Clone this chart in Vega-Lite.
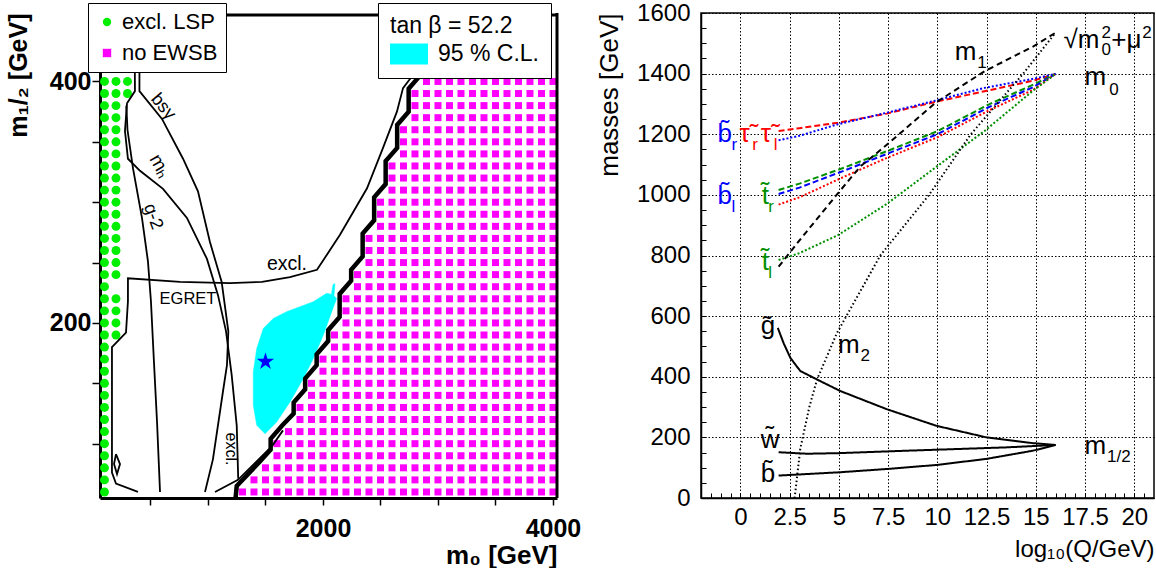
{
"$schema":"https://vega.github.io/schema/vega-lite/v6.json",
"background":"white",
"padding":{"left":6,"top":0,"right":0,"bottom":0},
"bounds":"flush",
"spacing":144,
"config":{
  "font":"Liberation Sans",
  "view":{"stroke":null},
  "axis":{"domainColor":"black","tickColor":"black","labelColor":"black","titleColor":"black","labelFlush":false,"labelOverlap":false,"labelFont":"Liberation Sans","titleFont":"Liberation Sans"},
  "legend":{"strokeColor":"black","fillColor":"white","cornerRadius":0,"labelFontSize":23,"titleFontSize":23,"titleFontWeight":"normal","labelColor":"black","titleColor":"black","labelFont":"Liberation Sans","titleFont":"Liberation Sans"},
  "text":{"font":"Liberation Sans"}
},
"resolve":{"scale":{"color":"independent","shape":"independent","fill":"independent","strokeDash":"independent"}},
"datasets":{
"lsp":[
{"m0":100,"m12":60},{"m0":100,"m12":70},{"m0":100,"m12":80},{"m0":100,"m12":90},{"m0":100,"m12":100},{"m0":100,"m12":110},{"m0":100,"m12":120},{"m0":100,"m12":130},{"m0":100,"m12":140},{"m0":100,"m12":150},{"m0":100,"m12":160},{"m0":100,"m12":170},{"m0":100,"m12":180},{"m0":100,"m12":190},{"m0":100,"m12":200},{"m0":100,"m12":210},{"m0":100,"m12":220},{"m0":100,"m12":230},{"m0":100,"m12":240},{"m0":100,"m12":250},{"m0":100,"m12":260},{"m0":100,"m12":270},{"m0":100,"m12":280},{"m0":100,"m12":290},{"m0":100,"m12":300},{"m0":100,"m12":310},{"m0":100,"m12":320},{"m0":100,"m12":330},{"m0":100,"m12":340},{"m0":100,"m12":350},{"m0":100,"m12":360},{"m0":100,"m12":370},{"m0":100,"m12":380},{"m0":100,"m12":390},{"m0":100,"m12":400},
{"m0":200,"m12":190},{"m0":200,"m12":200},{"m0":200,"m12":210},{"m0":200,"m12":220},{"m0":200,"m12":240},{"m0":200,"m12":250},{"m0":200,"m12":260},{"m0":200,"m12":270},{"m0":200,"m12":280},{"m0":200,"m12":290},{"m0":200,"m12":300},{"m0":200,"m12":310},{"m0":200,"m12":320},{"m0":200,"m12":330},{"m0":200,"m12":340},{"m0":200,"m12":350},{"m0":200,"m12":360},{"m0":200,"m12":370},{"m0":200,"m12":380},{"m0":200,"m12":390},{"m0":200,"m12":400},
{"m0":300,"m12":390},{"m0":300,"m12":400}
],
"ewsb":[
{"m0":1300,"m12":60},{"m0":1400,"m12":60},{"m0":1500,"m12":60},{"m0":1600,"m12":60},{"m0":1700,"m12":60},{"m0":1800,"m12":60},{"m0":1900,"m12":60},{"m0":2000,"m12":60},{"m0":2100,"m12":60},{"m0":2200,"m12":60},{"m0":2300,"m12":60},{"m0":2400,"m12":60},{"m0":2500,"m12":60},{"m0":2600,"m12":60},{"m0":2700,"m12":60},{"m0":2800,"m12":60},{"m0":2900,"m12":60},{"m0":3000,"m12":60},{"m0":3100,"m12":60},{"m0":3200,"m12":60},{"m0":3300,"m12":60},{"m0":3400,"m12":60},{"m0":3500,"m12":60},{"m0":3600,"m12":60},{"m0":3700,"m12":60},{"m0":3800,"m12":60},{"m0":3900,"m12":60},{"m0":4000,"m12":60},
{"m0":1400,"m12":70},{"m0":1500,"m12":70},{"m0":1600,"m12":70},{"m0":1700,"m12":70},{"m0":1800,"m12":70},{"m0":1900,"m12":70},{"m0":2000,"m12":70},{"m0":2100,"m12":70},{"m0":2200,"m12":70},{"m0":2300,"m12":70},{"m0":2400,"m12":70},{"m0":2500,"m12":70},{"m0":2600,"m12":70},{"m0":2700,"m12":70},{"m0":2800,"m12":70},{"m0":2900,"m12":70},{"m0":3000,"m12":70},{"m0":3100,"m12":70},{"m0":3200,"m12":70},{"m0":3300,"m12":70},{"m0":3400,"m12":70},{"m0":3500,"m12":70},{"m0":3600,"m12":70},{"m0":3700,"m12":70},{"m0":3800,"m12":70},{"m0":3900,"m12":70},{"m0":4000,"m12":70},
{"m0":1500,"m12":80},{"m0":1600,"m12":80},{"m0":1700,"m12":80},{"m0":1800,"m12":80},{"m0":1900,"m12":80},{"m0":2000,"m12":80},{"m0":2100,"m12":80},{"m0":2200,"m12":80},{"m0":2300,"m12":80},{"m0":2400,"m12":80},{"m0":2500,"m12":80},{"m0":2600,"m12":80},{"m0":2700,"m12":80},{"m0":2800,"m12":80},{"m0":2900,"m12":80},{"m0":3000,"m12":80},{"m0":3100,"m12":80},{"m0":3200,"m12":80},{"m0":3300,"m12":80},{"m0":3400,"m12":80},{"m0":3500,"m12":80},{"m0":3600,"m12":80},{"m0":3700,"m12":80},{"m0":3800,"m12":80},{"m0":3900,"m12":80},{"m0":4000,"m12":80},
{"m0":1600,"m12":90},{"m0":1700,"m12":90},{"m0":1800,"m12":90},{"m0":1900,"m12":90},{"m0":2000,"m12":90},{"m0":2100,"m12":90},{"m0":2200,"m12":90},{"m0":2300,"m12":90},{"m0":2400,"m12":90},{"m0":2500,"m12":90},{"m0":2600,"m12":90},{"m0":2700,"m12":90},{"m0":2800,"m12":90},{"m0":2900,"m12":90},{"m0":3000,"m12":90},{"m0":3100,"m12":90},{"m0":3200,"m12":90},{"m0":3300,"m12":90},{"m0":3400,"m12":90},{"m0":3500,"m12":90},{"m0":3600,"m12":90},{"m0":3700,"m12":90},{"m0":3800,"m12":90},{"m0":3900,"m12":90},{"m0":4000,"m12":90},
{"m0":1600,"m12":100},{"m0":1700,"m12":100},{"m0":1800,"m12":100},{"m0":1900,"m12":100},{"m0":2000,"m12":100},{"m0":2100,"m12":100},{"m0":2200,"m12":100},{"m0":2300,"m12":100},{"m0":2400,"m12":100},{"m0":2500,"m12":100},{"m0":2600,"m12":100},{"m0":2700,"m12":100},{"m0":2800,"m12":100},{"m0":2900,"m12":100},{"m0":3000,"m12":100},{"m0":3100,"m12":100},{"m0":3200,"m12":100},{"m0":3300,"m12":100},{"m0":3400,"m12":100},{"m0":3500,"m12":100},{"m0":3600,"m12":100},{"m0":3700,"m12":100},{"m0":3800,"m12":100},{"m0":3900,"m12":100},{"m0":4000,"m12":100},
{"m0":1700,"m12":110},{"m0":1800,"m12":110},{"m0":1900,"m12":110},{"m0":2000,"m12":110},{"m0":2100,"m12":110},{"m0":2200,"m12":110},{"m0":2300,"m12":110},{"m0":2400,"m12":110},{"m0":2500,"m12":110},{"m0":2600,"m12":110},{"m0":2700,"m12":110},{"m0":2800,"m12":110},{"m0":2900,"m12":110},{"m0":3000,"m12":110},{"m0":3100,"m12":110},{"m0":3200,"m12":110},{"m0":3300,"m12":110},{"m0":3400,"m12":110},{"m0":3500,"m12":110},{"m0":3600,"m12":110},{"m0":3700,"m12":110},{"m0":3800,"m12":110},{"m0":3900,"m12":110},{"m0":4000,"m12":110},
{"m0":1800,"m12":120},{"m0":1900,"m12":120},{"m0":2000,"m12":120},{"m0":2100,"m12":120},{"m0":2200,"m12":120},{"m0":2300,"m12":120},{"m0":2400,"m12":120},{"m0":2500,"m12":120},{"m0":2600,"m12":120},{"m0":2700,"m12":120},{"m0":2800,"m12":120},{"m0":2900,"m12":120},{"m0":3000,"m12":120},{"m0":3100,"m12":120},{"m0":3200,"m12":120},{"m0":3300,"m12":120},{"m0":3400,"m12":120},{"m0":3500,"m12":120},{"m0":3600,"m12":120},{"m0":3700,"m12":120},{"m0":3800,"m12":120},{"m0":3900,"m12":120},{"m0":4000,"m12":120},
{"m0":1800,"m12":130},{"m0":1900,"m12":130},{"m0":2000,"m12":130},{"m0":2100,"m12":130},{"m0":2200,"m12":130},{"m0":2300,"m12":130},{"m0":2400,"m12":130},{"m0":2500,"m12":130},{"m0":2600,"m12":130},{"m0":2700,"m12":130},{"m0":2800,"m12":130},{"m0":2900,"m12":130},{"m0":3000,"m12":130},{"m0":3100,"m12":130},{"m0":3200,"m12":130},{"m0":3300,"m12":130},{"m0":3400,"m12":130},{"m0":3500,"m12":130},{"m0":3600,"m12":130},{"m0":3700,"m12":130},{"m0":3800,"m12":130},{"m0":3900,"m12":130},{"m0":4000,"m12":130},
{"m0":1900,"m12":140},{"m0":2000,"m12":140},{"m0":2100,"m12":140},{"m0":2200,"m12":140},{"m0":2300,"m12":140},{"m0":2400,"m12":140},{"m0":2500,"m12":140},{"m0":2600,"m12":140},{"m0":2700,"m12":140},{"m0":2800,"m12":140},{"m0":2900,"m12":140},{"m0":3000,"m12":140},{"m0":3100,"m12":140},{"m0":3200,"m12":140},{"m0":3300,"m12":140},{"m0":3400,"m12":140},{"m0":3500,"m12":140},{"m0":3600,"m12":140},{"m0":3700,"m12":140},{"m0":3800,"m12":140},{"m0":3900,"m12":140},{"m0":4000,"m12":140},
{"m0":1900,"m12":150},{"m0":2000,"m12":150},{"m0":2100,"m12":150},{"m0":2200,"m12":150},{"m0":2300,"m12":150},{"m0":2400,"m12":150},{"m0":2500,"m12":150},{"m0":2600,"m12":150},{"m0":2700,"m12":150},{"m0":2800,"m12":150},{"m0":2900,"m12":150},{"m0":3000,"m12":150},{"m0":3100,"m12":150},{"m0":3200,"m12":150},{"m0":3300,"m12":150},{"m0":3400,"m12":150},{"m0":3500,"m12":150},{"m0":3600,"m12":150},{"m0":3700,"m12":150},{"m0":3800,"m12":150},{"m0":3900,"m12":150},{"m0":4000,"m12":150},
{"m0":2000,"m12":160},{"m0":2100,"m12":160},{"m0":2200,"m12":160},{"m0":2300,"m12":160},{"m0":2400,"m12":160},{"m0":2500,"m12":160},{"m0":2600,"m12":160},{"m0":2700,"m12":160},{"m0":2800,"m12":160},{"m0":2900,"m12":160},{"m0":3000,"m12":160},{"m0":3100,"m12":160},{"m0":3200,"m12":160},{"m0":3300,"m12":160},{"m0":3400,"m12":160},{"m0":3500,"m12":160},{"m0":3600,"m12":160},{"m0":3700,"m12":160},{"m0":3800,"m12":160},{"m0":3900,"m12":160},{"m0":4000,"m12":160},
{"m0":2000,"m12":170},{"m0":2100,"m12":170},{"m0":2200,"m12":170},{"m0":2300,"m12":170},{"m0":2400,"m12":170},{"m0":2500,"m12":170},{"m0":2600,"m12":170},{"m0":2700,"m12":170},{"m0":2800,"m12":170},{"m0":2900,"m12":170},{"m0":3000,"m12":170},{"m0":3100,"m12":170},{"m0":3200,"m12":170},{"m0":3300,"m12":170},{"m0":3400,"m12":170},{"m0":3500,"m12":170},{"m0":3600,"m12":170},{"m0":3700,"m12":170},{"m0":3800,"m12":170},{"m0":3900,"m12":170},{"m0":4000,"m12":170},
{"m0":2100,"m12":180},{"m0":2200,"m12":180},{"m0":2300,"m12":180},{"m0":2400,"m12":180},{"m0":2500,"m12":180},{"m0":2600,"m12":180},{"m0":2700,"m12":180},{"m0":2800,"m12":180},{"m0":2900,"m12":180},{"m0":3000,"m12":180},{"m0":3100,"m12":180},{"m0":3200,"m12":180},{"m0":3300,"m12":180},{"m0":3400,"m12":180},{"m0":3500,"m12":180},{"m0":3600,"m12":180},{"m0":3700,"m12":180},{"m0":3800,"m12":180},{"m0":3900,"m12":180},{"m0":4000,"m12":180},
{"m0":2100,"m12":190},{"m0":2200,"m12":190},{"m0":2300,"m12":190},{"m0":2400,"m12":190},{"m0":2500,"m12":190},{"m0":2600,"m12":190},{"m0":2700,"m12":190},{"m0":2800,"m12":190},{"m0":2900,"m12":190},{"m0":3000,"m12":190},{"m0":3100,"m12":190},{"m0":3200,"m12":190},{"m0":3300,"m12":190},{"m0":3400,"m12":190},{"m0":3500,"m12":190},{"m0":3600,"m12":190},{"m0":3700,"m12":190},{"m0":3800,"m12":190},{"m0":3900,"m12":190},{"m0":4000,"m12":190},
{"m0":2200,"m12":200},{"m0":2300,"m12":200},{"m0":2400,"m12":200},{"m0":2500,"m12":200},{"m0":2600,"m12":200},{"m0":2700,"m12":200},{"m0":2800,"m12":200},{"m0":2900,"m12":200},{"m0":3000,"m12":200},{"m0":3100,"m12":200},{"m0":3200,"m12":200},{"m0":3300,"m12":200},{"m0":3400,"m12":200},{"m0":3500,"m12":200},{"m0":3600,"m12":200},{"m0":3700,"m12":200},{"m0":3800,"m12":200},{"m0":3900,"m12":200},{"m0":4000,"m12":200},
{"m0":2200,"m12":210},{"m0":2300,"m12":210},{"m0":2400,"m12":210},{"m0":2500,"m12":210},{"m0":2600,"m12":210},{"m0":2700,"m12":210},{"m0":2800,"m12":210},{"m0":2900,"m12":210},{"m0":3000,"m12":210},{"m0":3100,"m12":210},{"m0":3200,"m12":210},{"m0":3300,"m12":210},{"m0":3400,"m12":210},{"m0":3500,"m12":210},{"m0":3600,"m12":210},{"m0":3700,"m12":210},{"m0":3800,"m12":210},{"m0":3900,"m12":210},{"m0":4000,"m12":210},
{"m0":2200,"m12":220},{"m0":2300,"m12":220},{"m0":2400,"m12":220},{"m0":2500,"m12":220},{"m0":2600,"m12":220},{"m0":2700,"m12":220},{"m0":2800,"m12":220},{"m0":2900,"m12":220},{"m0":3000,"m12":220},{"m0":3100,"m12":220},{"m0":3200,"m12":220},{"m0":3300,"m12":220},{"m0":3400,"m12":220},{"m0":3500,"m12":220},{"m0":3600,"m12":220},{"m0":3700,"m12":220},{"m0":3800,"m12":220},{"m0":3900,"m12":220},{"m0":4000,"m12":220},
{"m0":2300,"m12":230},{"m0":2400,"m12":230},{"m0":2500,"m12":230},{"m0":2600,"m12":230},{"m0":2700,"m12":230},{"m0":2800,"m12":230},{"m0":2900,"m12":230},{"m0":3000,"m12":230},{"m0":3100,"m12":230},{"m0":3200,"m12":230},{"m0":3300,"m12":230},{"m0":3400,"m12":230},{"m0":3500,"m12":230},{"m0":3600,"m12":230},{"m0":3700,"m12":230},{"m0":3800,"m12":230},{"m0":3900,"m12":230},{"m0":4000,"m12":230},
{"m0":2300,"m12":240},{"m0":2400,"m12":240},{"m0":2500,"m12":240},{"m0":2600,"m12":240},{"m0":2700,"m12":240},{"m0":2800,"m12":240},{"m0":2900,"m12":240},{"m0":3000,"m12":240},{"m0":3100,"m12":240},{"m0":3200,"m12":240},{"m0":3300,"m12":240},{"m0":3400,"m12":240},{"m0":3500,"m12":240},{"m0":3600,"m12":240},{"m0":3700,"m12":240},{"m0":3800,"m12":240},{"m0":3900,"m12":240},{"m0":4000,"m12":240},
{"m0":2400,"m12":250},{"m0":2500,"m12":250},{"m0":2600,"m12":250},{"m0":2700,"m12":250},{"m0":2800,"m12":250},{"m0":2900,"m12":250},{"m0":3000,"m12":250},{"m0":3100,"m12":250},{"m0":3200,"m12":250},{"m0":3300,"m12":250},{"m0":3400,"m12":250},{"m0":3500,"m12":250},{"m0":3600,"m12":250},{"m0":3700,"m12":250},{"m0":3800,"m12":250},{"m0":3900,"m12":250},{"m0":4000,"m12":250},
{"m0":2400,"m12":260},{"m0":2500,"m12":260},{"m0":2600,"m12":260},{"m0":2700,"m12":260},{"m0":2800,"m12":260},{"m0":2900,"m12":260},{"m0":3000,"m12":260},{"m0":3100,"m12":260},{"m0":3200,"m12":260},{"m0":3300,"m12":260},{"m0":3400,"m12":260},{"m0":3500,"m12":260},{"m0":3600,"m12":260},{"m0":3700,"m12":260},{"m0":3800,"m12":260},{"m0":3900,"m12":260},{"m0":4000,"m12":260},
{"m0":2400,"m12":270},{"m0":2500,"m12":270},{"m0":2600,"m12":270},{"m0":2700,"m12":270},{"m0":2800,"m12":270},{"m0":2900,"m12":270},{"m0":3000,"m12":270},{"m0":3100,"m12":270},{"m0":3200,"m12":270},{"m0":3300,"m12":270},{"m0":3400,"m12":270},{"m0":3500,"m12":270},{"m0":3600,"m12":270},{"m0":3700,"m12":270},{"m0":3800,"m12":270},{"m0":3900,"m12":270},{"m0":4000,"m12":270},
{"m0":2500,"m12":280},{"m0":2600,"m12":280},{"m0":2700,"m12":280},{"m0":2800,"m12":280},{"m0":2900,"m12":280},{"m0":3000,"m12":280},{"m0":3100,"m12":280},{"m0":3200,"m12":280},{"m0":3300,"m12":280},{"m0":3400,"m12":280},{"m0":3500,"m12":280},{"m0":3600,"m12":280},{"m0":3700,"m12":280},{"m0":3800,"m12":280},{"m0":3900,"m12":280},{"m0":4000,"m12":280},
{"m0":2500,"m12":290},{"m0":2600,"m12":290},{"m0":2700,"m12":290},{"m0":2800,"m12":290},{"m0":2900,"m12":290},{"m0":3000,"m12":290},{"m0":3100,"m12":290},{"m0":3200,"m12":290},{"m0":3300,"m12":290},{"m0":3400,"m12":290},{"m0":3500,"m12":290},{"m0":3600,"m12":290},{"m0":3700,"m12":290},{"m0":3800,"m12":290},{"m0":3900,"m12":290},{"m0":4000,"m12":290},
{"m0":2500,"m12":300},{"m0":2600,"m12":300},{"m0":2700,"m12":300},{"m0":2800,"m12":300},{"m0":2900,"m12":300},{"m0":3000,"m12":300},{"m0":3100,"m12":300},{"m0":3200,"m12":300},{"m0":3300,"m12":300},{"m0":3400,"m12":300},{"m0":3500,"m12":300},{"m0":3600,"m12":300},{"m0":3700,"m12":300},{"m0":3800,"m12":300},{"m0":3900,"m12":300},{"m0":4000,"m12":300},
{"m0":2600,"m12":310},{"m0":2700,"m12":310},{"m0":2800,"m12":310},{"m0":2900,"m12":310},{"m0":3000,"m12":310},{"m0":3100,"m12":310},{"m0":3200,"m12":310},{"m0":3300,"m12":310},{"m0":3400,"m12":310},{"m0":3500,"m12":310},{"m0":3600,"m12":310},{"m0":3700,"m12":310},{"m0":3800,"m12":310},{"m0":3900,"m12":310},{"m0":4000,"m12":310},
{"m0":2600,"m12":320},{"m0":2700,"m12":320},{"m0":2800,"m12":320},{"m0":2900,"m12":320},{"m0":3000,"m12":320},{"m0":3100,"m12":320},{"m0":3200,"m12":320},{"m0":3300,"m12":320},{"m0":3400,"m12":320},{"m0":3500,"m12":320},{"m0":3600,"m12":320},{"m0":3700,"m12":320},{"m0":3800,"m12":320},{"m0":3900,"m12":320},{"m0":4000,"m12":320},
{"m0":2600,"m12":330},{"m0":2700,"m12":330},{"m0":2800,"m12":330},{"m0":2900,"m12":330},{"m0":3000,"m12":330},{"m0":3100,"m12":330},{"m0":3200,"m12":330},{"m0":3300,"m12":330},{"m0":3400,"m12":330},{"m0":3500,"m12":330},{"m0":3600,"m12":330},{"m0":3700,"m12":330},{"m0":3800,"m12":330},{"m0":3900,"m12":330},{"m0":4000,"m12":330},
{"m0":2700,"m12":340},{"m0":2800,"m12":340},{"m0":2900,"m12":340},{"m0":3000,"m12":340},{"m0":3100,"m12":340},{"m0":3200,"m12":340},{"m0":3300,"m12":340},{"m0":3400,"m12":340},{"m0":3500,"m12":340},{"m0":3600,"m12":340},{"m0":3700,"m12":340},{"m0":3800,"m12":340},{"m0":3900,"m12":340},{"m0":4000,"m12":340},
{"m0":2700,"m12":350},{"m0":2800,"m12":350},{"m0":2900,"m12":350},{"m0":3000,"m12":350},{"m0":3100,"m12":350},{"m0":3200,"m12":350},{"m0":3300,"m12":350},{"m0":3400,"m12":350},{"m0":3500,"m12":350},{"m0":3600,"m12":350},{"m0":3700,"m12":350},{"m0":3800,"m12":350},{"m0":3900,"m12":350},{"m0":4000,"m12":350},
{"m0":2700,"m12":360},{"m0":2800,"m12":360},{"m0":2900,"m12":360},{"m0":3000,"m12":360},{"m0":3100,"m12":360},{"m0":3200,"m12":360},{"m0":3300,"m12":360},{"m0":3400,"m12":360},{"m0":3500,"m12":360},{"m0":3600,"m12":360},{"m0":3700,"m12":360},{"m0":3800,"m12":360},{"m0":3900,"m12":360},{"m0":4000,"m12":360},
{"m0":2800,"m12":370},{"m0":2900,"m12":370},{"m0":3000,"m12":370},{"m0":3100,"m12":370},{"m0":3200,"m12":370},{"m0":3300,"m12":370},{"m0":3400,"m12":370},{"m0":3500,"m12":370},{"m0":3600,"m12":370},{"m0":3700,"m12":370},{"m0":3800,"m12":370},{"m0":3900,"m12":370},{"m0":4000,"m12":370},
{"m0":2800,"m12":380},{"m0":2900,"m12":380},{"m0":3000,"m12":380},{"m0":3100,"m12":380},{"m0":3200,"m12":380},{"m0":3300,"m12":380},{"m0":3400,"m12":380},{"m0":3500,"m12":380},{"m0":3600,"m12":380},{"m0":3700,"m12":380},{"m0":3800,"m12":380},{"m0":3900,"m12":380},{"m0":4000,"m12":380},
{"m0":2800,"m12":390},{"m0":2900,"m12":390},{"m0":3000,"m12":390},{"m0":3100,"m12":390},{"m0":3200,"m12":390},{"m0":3300,"m12":390},{"m0":3400,"m12":390},{"m0":3500,"m12":390},{"m0":3600,"m12":390},{"m0":3700,"m12":390},{"m0":3800,"m12":390},{"m0":3900,"m12":390},{"m0":4000,"m12":390},
{"m0":2900,"m12":400},{"m0":3000,"m12":400},{"m0":3100,"m12":400},{"m0":3200,"m12":400},{"m0":3300,"m12":400},{"m0":3400,"m12":400},{"m0":3500,"m12":400},{"m0":3600,"m12":400},{"m0":3700,"m12":400},{"m0":3800,"m12":400},{"m0":3900,"m12":400},{"m0":4000,"m12":400}
],
"curves":[
{"c":"lsp","i":0,"m0":361,"m12":455},{"c":"lsp","i":1,"m0":365,"m12":392},{"c":"lsp","i":2,"m0":296,"m12":382},
{"c":"mh","i":0,"m0":296,"m12":382},{"c":"mh","i":1,"m0":278,"m12":359},{"c":"mh","i":2,"m0":304,"m12":336},{"c":"mh","i":3,"m0":409,"m12":326},{"c":"mh","i":4,"m0":609,"m12":311},{"c":"mh","i":5,"m0":817,"m12":287},{"c":"mh","i":6,"m0":991,"m12":253},{"c":"mh","i":7,"m0":1087,"m12":223},{"c":"mh","i":8,"m0":1157,"m12":193},{"c":"mh","i":9,"m0":1206,"m12":157},{"c":"mh","i":10,"m0":1250,"m12":115},{"c":"mh","i":11,"m0":1263,"m12":71},
{"c":"g2","i":0,"m0":290,"m12":380},{"c":"g2","i":1,"m0":300,"m12":360},{"c":"g2","i":2,"m0":348,"m12":328},{"c":"g2","i":3,"m0":426,"m12":287},{"c":"g2","i":4,"m0":478,"m12":251},{"c":"g2","i":5,"m0":504,"m12":218},{"c":"g2","i":6,"m0":530,"m12":168},{"c":"g2","i":7,"m0":557,"m12":118},{"c":"g2","i":8,"m0":583,"m12":60},
{"c":"bsg","i":0,"m0":404,"m12":455},{"c":"bsg","i":1,"m0":404,"m12":392},{"c":"bsg","i":2,"m0":600,"m12":369},{"c":"bsg","i":3,"m0":783,"m12":336},{"c":"bsg","i":4,"m0":913,"m12":309},{"c":"bsg","i":5,"m0":1017,"m12":267},{"c":"bsg","i":6,"m0":1119,"m12":234},{"c":"bsg","i":7,"m0":1177,"m12":193},{"c":"bsg","i":8,"m0":1165,"m12":165},{"c":"bsg","i":9,"m0":1130,"m12":143},{"c":"bsg","i":10,"m0":1043,"m12":87},{"c":"bsg","i":11,"m0":974,"m12":60},
{"c":"bot","i":0,"m0":1061,"m12":60},{"c":"bot","i":1,"m0":1261,"m12":70},{"c":"bot","i":2,"m0":1557,"m12":98},{"c":"bot","i":3,"m0":1652,"m12":111},
{"c":"egret","i":0,"m0":391,"m12":60},{"c":"egret","i":1,"m0":200,"m12":67},{"c":"egret","i":2,"m0":165,"m12":76},{"c":"egret","i":3,"m0":165,"m12":134.5},{"c":"egret","i":4,"m0":165,"m12":180},{"c":"egret","i":5,"m0":287,"m12":192},{"c":"egret","i":6,"m0":304,"m12":218},{"c":"egret","i":7,"m0":304,"m12":237},{"c":"egret","i":8,"m0":757,"m12":234},{"c":"egret","i":9,"m0":1191,"m12":233},{"c":"egret","i":10,"m0":1470,"m12":234},{"c":"egret","i":11,"m0":1713,"m12":238},{"c":"egret","i":12,"m0":1948,"m12":244},{"c":"egret","i":13,"m0":2148,"m12":273},{"c":"egret","i":14,"m0":2383,"m12":311.5},{"c":"egret","i":15,"m0":2522,"m12":345},{"c":"egret","i":16,"m0":2643,"m12":375},{"c":"egret","i":17,"m0":2696,"m12":394.5},{"c":"egret","i":18,"m0":2748,"m12":401},{"c":"egret","i":19,"m0":2774,"m12":404},
{"c":"dia","i":0,"m0":200,"m12":91.4},{"c":"dia","i":1,"m0":235,"m12":83.1},{"c":"dia","i":2,"m0":209,"m12":74.8},{"c":"dia","i":3,"m0":183,"m12":83.1},{"c":"dia","i":4,"m0":200,"m12":91.4}
],
"thick":[
{"i":0,"m0":1240,"m12":55},{"i":1,"m0":1250,"m12":65},{"i":2,"m0":1350,"m12":75},{"i":3,"m0":1450,"m12":85},{"i":4,"m0":1545,"m12":95},{"i":5,"m0":1545,"m12":104},{"i":6,"m0":1645,"m12":115},{"i":7,"m0":1745,"m12":125},{"i":8,"m0":1745,"m12":134},{"i":9,"m0":1845,"m12":145},{"i":10,"m0":1845,"m12":154},{"i":11,"m0":1945,"m12":165},{"i":12,"m0":1945,"m12":174},{"i":13,"m0":2045,"m12":185},{"i":14,"m0":2045,"m12":194},{"i":15,"m0":2145,"m12":205},{"i":16,"m0":2145,"m12":224},{"i":17,"m0":2245,"m12":235},{"i":18,"m0":2245,"m12":244},{"i":19,"m0":2345,"m12":255},{"i":20,"m0":2345,"m12":274},{"i":21,"m0":2445,"m12":285},{"i":22,"m0":2445,"m12":304},{"i":23,"m0":2545,"m12":315},{"i":24,"m0":2545,"m12":334},{"i":25,"m0":2645,"m12":345},{"i":26,"m0":2645,"m12":364},{"i":27,"m0":2745,"m12":375},{"i":28,"m0":2745,"m12":394},{"i":29,"m0":2845,"m12":405},{"i":30,"m0":2850,"m12":415}
],
"cl":[
{"part":"a","region":"95 % C.L.","i":0,"m0":2032,"m12":224.5},{"part":"a","region":"95 % C.L.","i":1,"m0":1916,"m12":217.6},{"part":"a","region":"95 % C.L.","i":2,"m0":1684,"m12":209.3},{"part":"a","region":"95 % C.L.","i":3,"m0":1568,"m12":203.7},{"part":"a","region":"95 % C.L.","i":4,"m0":1481,"m12":195.4},{"part":"a","region":"95 % C.L.","i":5,"m0":1424,"m12":178.8},{"part":"a","region":"95 % C.L.","i":6,"m0":1394,"m12":159.5},{"part":"a","region":"95 % C.L.","i":7,"m0":1394,"m12":131.8},{"part":"a","region":"95 % C.L.","i":8,"m0":1424,"m12":115.2},{"part":"a","region":"95 % C.L.","i":9,"m0":1496,"m12":108.2},{"part":"a","region":"95 % C.L.","i":10,"m0":1597,"m12":117.9},{"part":"a","region":"95 % C.L.","i":11,"m0":1713,"m12":134.5},{"part":"a","region":"95 % C.L.","i":12,"m0":1829,"m12":153.9},{"part":"a","region":"95 % C.L.","i":13,"m0":1916,"m12":170.5},{"part":"a","region":"95 % C.L.","i":14,"m0":2003,"m12":190},{"part":"a","region":"95 % C.L.","i":15,"m0":2076,"m12":209.3},{"part":"a","region":"95 % C.L.","i":16,"m0":2119,"m12":220.3},{"part":"a","region":"95 % C.L.","i":17,"m0":2087,"m12":223.4},{"part":"a","region":"95 % C.L.","i":18,"m0":2032,"m12":224.5},
{"part":"b","region":"95 % C.L.","i":0,"m0":2074,"m12":224.2},{"part":"b","region":"95 % C.L.","i":1,"m0":2087,"m12":231.7},{"part":"b","region":"95 % C.L.","i":2,"m0":2104,"m12":232.6},{"part":"b","region":"95 % C.L.","i":3,"m0":2096,"m12":222.6},{"part":"b","region":"95 % C.L.","i":4,"m0":2074,"m12":224.2}
],
"rge":[
{"s":"stau_l","q":1.94,"m":1211},{"s":"stau_l","q":3,"m":1220},{"s":"stau_l","q":4.95,"m":1238},{"s":"stau_l","q":7.43,"m":1268},{"s":"stau_l","q":9.91,"m":1307},{"s":"stau_l","q":12.4,"m":1342},{"s":"stau_l","q":14.88,"m":1377},{"s":"stau_l","q":16,"m":1399},
{"s":"sbottom_r","q":1.94,"m":1180},{"s":"sbottom_r","q":3,"m":1195},{"s":"sbottom_r","q":4.95,"m":1233},{"s":"sbottom_r","q":7.43,"m":1271},{"s":"sbottom_r","q":9.91,"m":1311},{"s":"sbottom_r","q":12.4,"m":1353},{"s":"sbottom_r","q":14.88,"m":1383},{"s":"sbottom_r","q":16,"m":1399},
{"s":"stop_r","q":1.94,"m":1016},{"s":"stop_r","q":3,"m":1037},{"s":"stop_r","q":5.27,"m":1090},{"s":"stop_r","q":7.47,"m":1145},{"s":"stop_r","q":10,"m":1210},{"s":"stop_r","q":12.6,"m":1298},{"s":"stop_r","q":14.88,"m":1364},{"s":"stop_r","q":16,"m":1399},
{"s":"sbottom_l","q":1.94,"m":1003},{"s":"sbottom_l","q":3,"m":1024},{"s":"sbottom_l","q":5.27,"m":1080},{"s":"sbottom_l","q":7.47,"m":1136},{"s":"sbottom_l","q":10,"m":1200},{"s":"sbottom_l","q":12.6,"m":1289},{"s":"sbottom_l","q":14.88,"m":1356},{"s":"sbottom_l","q":16,"m":1399},
{"s":"stau_r","q":1.94,"m":968},{"s":"stau_r","q":3,"m":992},{"s":"stau_r","q":5.27,"m":1060},{"s":"stau_r","q":7.47,"m":1123},{"s":"stau_r","q":10,"m":1190},{"s":"stau_r","q":12.6,"m":1278},{"s":"stau_r","q":14.88,"m":1347},{"s":"stau_r","q":16,"m":1399},
{"s":"stop_l","q":1.94,"m":785},{"s":"stop_l","q":3,"m":808},{"s":"stop_l","q":4.95,"m":867},{"s":"stop_l","q":7.43,"m":970},{"s":"stop_l","q":10,"m":1095},{"s":"stop_l","q":12.4,"m":1211},{"s":"stop_l","q":14.88,"m":1345},{"s":"stop_l","q":16,"m":1399},
{"s":"m1","q":1.94,"m":763},{"s":"m1","q":3,"m":850},{"s":"m1","q":4.95,"m":1005},{"s":"m1","q":6.08,"m":1093},{"s":"m1","q":7.43,"m":1165},{"s":"m1","q":9.91,"m":1304},{"s":"m1","q":12.4,"m":1408},{"s":"m1","q":14.88,"m":1490},{"s":"m1","q":16,"m":1535},
{"s":"m2","q":2.75,"m":0},{"s":"m2","q":2.79,"m":20},{"s":"m2","q":3.04,"m":162},{"s":"m2","q":3.5,"m":300},{"s":"m2","q":3.89,"m":391},{"s":"m2","q":4.9,"m":544},{"s":"m2","q":6.08,"m":681},{"s":"m2","q":7.1,"m":800},{"s":"m2","q":9.58,"m":1000},{"s":"m2","q":11.7,"m":1200},{"s":"m2","q":14.36,"m":1400},{"s":"m2","q":16,"m":1535},
{"s":"gluino","q":1.9,"m":561},{"s":"gluino","q":2.2,"m":510},{"s":"gluino","q":2.54,"m":462},{"s":"gluino","q":3.04,"m":419},{"s":"gluino","q":3.89,"m":391},{"s":"gluino","q":5.07,"m":353},{"s":"gluino","q":7.43,"m":293},{"s":"gluino","q":9.96,"m":238},{"s":"gluino","q":12.49,"m":200},{"s":"gluino","q":14.85,"m":181},{"s":"gluino","q":16,"m":175},
{"s":"wino","q":1.94,"m":151},{"s":"wino","q":3.38,"m":146},{"s":"wino","q":5,"m":148},{"s":"wino","q":8.44,"m":156},{"s":"wino","q":13.5,"m":167},{"s":"wino","q":16,"m":175},
{"s":"bino","q":1.94,"m":74},{"s":"bino","q":5.07,"m":85},{"s":"bino","q":7.5,"m":96},{"s":"bino","q":9.96,"m":109},{"s":"bino","q":12.49,"m":129},{"s":"bino","q":14.85,"m":156},{"s":"bino","q":16,"m":175}
],
"rlab":[
{"t":"m","q":10.88,"m":1446,"s":"m1","k":"main"},{"t":"1","q":12.02,"m":1420,"s":"m1","k":"small"},
{"t":"\u221am","q":16.41,"m":1485,"s":"m2","k":"main"},{"t":"2","q":18.33,"m":1518,"s":"m2","k":"small"},{"t":"0","q":18.33,"m":1462,"s":"m2","k":"small"},{"t":"+\u03bc","q":18.83,"m":1485,"s":"m2","k":"main"},{"t":"2","q":20.4,"m":1518,"s":"m2","k":"small"},
{"t":"m","q":17.47,"m":1361,"s":"m1","k":"main"},{"t":"0","q":18.73,"m":1328,"s":"m1","k":"small"},
{"t":"m","q":4.96,"m":479,"s":"m2","k":"main"},{"t":"2","q":6.1,"m":452,"s":"m2","k":"small"},
{"t":"m","q":17.47,"m":144,"s":"gluino","k":"main"},{"t":"1/2","q":18.62,"m":118,"s":"gluino","k":"small"},
{"t":"b\u0303","q":-1.16,"m":1174,"s":"sbottom_r","k":"main"},{"t":"r","q":-0.45,"m":1148,"s":"sbottom_r","k":"small"},
{"t":"\u03c4\u0303","q":-0.05,"m":1174,"s":"stau_l","k":"main"},{"t":"r","q":0.6,"m":1148,"s":"stau_l","k":"small"},
{"t":"\u03c4\u0303","q":1.04,"m":1174,"s":"stau_l","k":"main"},{"t":"l","q":1.69,"m":1148,"s":"stau_l","k":"small"},
{"t":"b\u0303","q":-1.16,"m":970,"s":"sbottom_l","k":"main"},{"t":"l","q":-0.45,"m":944,"s":"sbottom_l","k":"small"},
{"t":"t\u0303","q":1.08,"m":970,"s":"stop_r","k":"main"},{"t":"r","q":1.42,"m":944,"s":"stop_r","k":"small"},
{"t":"t\u0303","q":1.08,"m":752,"s":"stop_l","k":"main"},{"t":"l","q":1.42,"m":725,"s":"stop_l","k":"small"},
{"t":"g\u0303","q":1.04,"m":541,"s":"gluino","k":"main"},
{"t":"w\u0303","q":1.04,"m":164,"s":"wino","k":"main"},
{"t":"b\u0303","q":1.04,"m":52,"s":"bino","k":"main"}
]
},
"hconcat":[
{
"width":457,"height":485,
"layer":[
 {"data":{"name":"lsp"},"mark":{"type":"point","filled":true,"size":80,"opacity":1},
  "encoding":{
   "x":{"field":"m0","type":"quantitative","scale":{"domain":[61,4035],"nice":false,"zero":false},
     "axis":{"values":[500,1000,1500,2000,2500,3000,3500,4000],"tickCount":100,"labelExpr":"datum.value == 2000 || datum.value == 4000 ? format(datum.value,'d') : ''","labelOverlap":false,"tickSize":7,"tickWidth":1.5,"domainWidth":3,"labelFontSize":25,"labelFontWeight":"bold","labelPadding":11,"grid":false,"title":"m\u2080 [GeV]","titleFontSize":26,"titleFontWeight":"bold","titleAnchor":"end","titlePadding":1}},
   "y":{"field":"m12","type":"quantitative","scale":{"domain":[55,456.7],"nice":false,"zero":false},
     "axis":{"values":[100,150,200,250,300,350,400],"tickCount":100,"labelExpr":"datum.value == 200 || datum.value == 400 ? format(datum.value,'d') : ''","labelOverlap":false,"tickSize":8,"tickWidth":1.5,"domainWidth":3,"labelFontSize":25,"labelFontWeight":"bold","labelPadding":1,"grid":false,"title":"m\u2081/\u2082 [GeV]","titleFontSize":25,"titleFontWeight":"bold","titleAnchor":"end","titlePadding":18}},
   "color":{"datum":"excl. LSP","type":"nominal","scale":{"domain":["excl. LSP","no EWSB"],"range":["#00ee00","#ff00ff"]},
     "legend":{"orient":"none","legendX":-12,"legendY":-10,"title":null,"padding":8,"rowPadding":9,"symbolSize":70,"labelOffset":4,"labelFontSize":22}},
   "shape":{"datum":"excl. LSP","type":"nominal","scale":{"domain":["excl. LSP","no EWSB"],"range":["circle","square"]},
     "legend":{"orient":"none","legendX":-12,"legendY":-10,"title":null,"padding":8,"rowPadding":9,"symbolSize":70,"labelOffset":4,"labelFontSize":22}}
  }},
 {"data":{"name":"ewsb"},"mark":{"type":"point","filled":true,"size":49,"opacity":1},
  "encoding":{
   "x":{"field":"m0","type":"quantitative","scale":{"domain":[61,4035],"nice":false,"zero":false}},
   "y":{"field":"m12","type":"quantitative","scale":{"domain":[55,456.7],"nice":false,"zero":false}},
   "color":{"datum":"no EWSB","type":"nominal","scale":{"domain":["excl. LSP","no EWSB"],"range":["#00ee00","#ff00ff"]}},
   "shape":{"datum":"no EWSB","type":"nominal","scale":{"domain":["excl. LSP","no EWSB"],"range":["circle","square"]}}
  }},
 {"data":{"name":"cl"},"mark":{"type":"line","strokeWidth":0.5,"stroke":"#00ffff"},
  "encoding":{
   "x":{"field":"m0","type":"quantitative","scale":{"domain":[61,4035],"nice":false,"zero":false}},
   "y":{"field":"m12","type":"quantitative","scale":{"domain":[55,456.7],"nice":false,"zero":false}},
   "detail":{"field":"part","type":"nominal"},
   "order":{"field":"i","type":"quantitative"},
   "fill":{"field":"region","type":"nominal","scale":{"range":["#00ffff"]},
     "legend":{"orient":"none","legendX":278,"legendY":-10,"title":"tan \u03b2 = 52.2","padding":12,"titlePadding":-3,"symbolType":"M-1,-0.55H1V0.55H-1Z","symbolSize":1444,"symbolStrokeWidth":0,"labelOffset":10,"labelFontSize":23,
       "encode":{"symbols":{"update":{"fill":{"value":"#00ffff"},"stroke":{"value":"#00ffff"},"opacity":{"value":1}}}}}}
  }},
 {"data":{"name":"curves"},"mark":{"type":"line","color":"black","strokeWidth":1.8},
  "encoding":{
   "x":{"field":"m0","type":"quantitative","scale":{"domain":[61,4035],"nice":false,"zero":false}},
   "y":{"field":"m12","type":"quantitative","scale":{"domain":[55,456.7],"nice":false,"zero":false}},
   "detail":{"field":"c","type":"nominal"},
   "order":{"field":"i","type":"quantitative"}
  }},
 {"data":{"name":"thick"},"mark":{"type":"line","color":"black","strokeWidth":4.5},
  "encoding":{
   "x":{"field":"m0","type":"quantitative","scale":{"domain":[61,4035],"nice":false,"zero":false}},
   "y":{"field":"m12","type":"quantitative","scale":{"domain":[55,456.7],"nice":false,"zero":false}},
   "order":{"field":"i","type":"quantitative"}
  }},
 {"data":{"values":[{"m0":1500,"m12":168}]},"mark":{"type":"point","shape":"M0,-1L0.2245,-0.309L0.9511,-0.309L0.3633,0.118L0.5878,0.809L0,0.382L-0.5878,0.809L-0.3633,0.118L-0.9511,-0.309L-0.2245,-0.309Z","filled":true,"color":"#0000ff","size":330,"opacity":1},
  "encoding":{"x":{"field":"m0","type":"quantitative"},"y":{"field":"m12","type":"quantitative"}}},
 {"data":{"values":[{"m0":826,"m12":220,"t":"EGRET"}]},"mark":{"type":"text","fontSize":16.5,"align":"center","baseline":"middle","color":"black"},
  "encoding":{"x":{"field":"m0","type":"quantitative"},"y":{"field":"m12","type":"quantitative"},"text":{"field":"t"}}},
 {"data":{"values":[{"m0":1687,"m12":249,"t":"excl."}]},"mark":{"type":"text","fontSize":19.5,"align":"center","baseline":"middle","color":"black"},
  "encoding":{"x":{"field":"m0","type":"quantitative"},"y":{"field":"m12","type":"quantitative"},"text":{"field":"t"}}},
 {"data":{"values":[{"m0":609,"m12":379,"t":"bs\u03b3"}]},"mark":{"type":"text","fontSize":18,"align":"center","baseline":"middle","angle":50,"color":"black"},
  "encoding":{"x":{"field":"m0","type":"quantitative"},"y":{"field":"m12","type":"quantitative"},"text":{"field":"t"}}},
 {"data":{"values":[{"m0":583,"m12":330,"t":"m\u2095"}]},"mark":{"type":"text","fontSize":19,"align":"center","baseline":"middle","angle":60,"color":"black"},
  "encoding":{"x":{"field":"m0","type":"quantitative"},"y":{"field":"m12","type":"quantitative"},"text":{"field":"t"}}},
 {"data":{"values":[{"m0":522,"m12":288,"t":"g-2"}]},"mark":{"type":"text","fontSize":18,"align":"center","baseline":"middle","angle":70,"color":"black"},
  "encoding":{"x":{"field":"m0","type":"quantitative"},"y":{"field":"m12","type":"quantitative"},"text":{"field":"t"}}},
 {"data":{"values":[{"m0":1200,"m12":95.6,"t":"excl."}]},"mark":{"type":"text","fontSize":16,"align":"center","baseline":"middle","angle":90,"color":"black"},
  "encoding":{"x":{"field":"m0","type":"quantitative"},"y":{"field":"m12","type":"quantitative"},"text":{"field":"t"}}},
 {"data":{"values":[{}]},"mark":{"type":"rule","color":"black","strokeWidth":3},"encoding":{"y":{"datum":455,"type":"quantitative"}}},
 {"data":{"values":[{}]},"mark":{"type":"rule","color":"black","strokeWidth":3},"encoding":{"x":{"datum":4035,"type":"quantitative"}}}
]
},
{
"width":453,"height":485,
"view":{"stroke":"black","strokeWidth":1.5},
"layer":[
 {"data":{"name":"rge"},"mark":{"type":"line","strokeWidth":2},
  "encoding":{
   "x":{"field":"q","type":"quantitative","scale":{"domain":[-2,21],"nice":false,"zero":false},
     "axis":{"values":[-1.5,-1,-0.5,0,0.5,1,1.5,2,2.5,3,3.5,4,4.5,5,5.5,6,6.5,7,7.5,8,8.5,9,9.5,10,10.5,11,11.5,12,12.5,13,13.5,14,14.5,15,15.5,16,16.5,17,17.5,18,18.5,19,19.5,20,20.5],"tickCount":100,
       "labelExpr":"datum.value % 2.5 === 0 ? format(datum.value, '~g') : ''","labelOverlap":false,"labelBound":false,
       "grid":true,"gridColor":"black","gridDash":[1.5,2],"gridWidth":1,
       "gridOpacity":{"condition":{"test":"datum.value % 2.5 === 0","value":1},"value":0},
       "tickSize":-5,"tickWidth":1,"domainWidth":1.5,"labelFontSize":24,"labelPadding":12,
       "title":"log\u2081\u2080(Q/GeV)","titleFontSize":24,"titleFontWeight":"normal","titleAnchor":"end","titlePadding":8}},
   "y":{"field":"m","type":"quantitative","scale":{"domain":[0,1600],"nice":false,"zero":false},
     "axis":{"values":[0,50,100,150,200,250,300,350,400,450,500,550,600,650,700,750,800,850,900,950,1000,1050,1100,1150,1200,1250,1300,1350,1400,1450,1500,1550,1600],"tickCount":100,
       "labelExpr":"datum.value % 200 === 0 ? format(datum.value, 'd') : ''","labelOverlap":false,
       "grid":true,"gridColor":"black","gridDash":[1.5,2],"gridWidth":1,
       "gridOpacity":{"condition":{"test":"datum.value % 200 === 0","value":1},"value":0},
       "tickSize":-5,"tickWidth":1,"domainWidth":1.5,"labelFontSize":24,"labelPadding":16,
       "title":"masses [GeV]","titleFontSize":26,"titleFontWeight":"normal","titleAnchor":"end","titlePadding":14}},
   "color":{"field":"s","type":"nominal","scale":{"domain":["stau_l","sbottom_r","stop_r","sbottom_l","stau_r","stop_l","m1","m2","gluino","wino","bino"],"range":["#ff0000","#0000ff","#008f00","#0000ff","#ff0000","#008f00","#000000","#000000","#000000","#000000","#000000"]},"legend":null},
   "strokeDash":{"field":"s","type":"nominal","scale":{"domain":["stau_l","sbottom_r","stop_r","sbottom_l","stau_r","stop_l","m1","m2","gluino","wino","bino"],"range":[[6,3],[2,2],[6,3],[6,3],[2,2],[2,2],[6,4],[1.5,2.5],[1,0],[1,0],[1,0]]},"legend":null}
  }},
 {"data":{"name":"rlab"},"transform":[{"filter":"datum.k == 'main'"}],"mark":{"type":"text","fontSize":26,"align":"left","baseline":"alphabetic"},
  "encoding":{
   "x":{"field":"q","type":"quantitative","scale":{"domain":[-2,21],"nice":false,"zero":false}},
   "y":{"field":"m","type":"quantitative","scale":{"domain":[0,1600],"nice":false,"zero":false}},
   "text":{"field":"t"},
   "color":{"field":"s","type":"nominal","scale":{"domain":["stau_l","sbottom_r","stop_r","sbottom_l","stau_r","stop_l","m1","m2","gluino","wino","bino"],"range":["#ff0000","#0000ff","#008f00","#0000ff","#ff0000","#008f00","#000000","#000000","#000000","#000000","#000000"]},"legend":null}
  }},
 {"data":{"name":"rlab"},"transform":[{"filter":"datum.k == 'small'"}],"mark":{"type":"text","fontSize":17,"align":"left","baseline":"alphabetic"},
  "encoding":{
   "x":{"field":"q","type":"quantitative","scale":{"domain":[-2,21],"nice":false,"zero":false}},
   "y":{"field":"m","type":"quantitative","scale":{"domain":[0,1600],"nice":false,"zero":false}},
   "text":{"field":"t"},
   "color":{"field":"s","type":"nominal","scale":{"domain":["stau_l","sbottom_r","stop_r","sbottom_l","stau_r","stop_l","m1","m2","gluino","wino","bino"],"range":["#ff0000","#0000ff","#008f00","#0000ff","#ff0000","#008f00","#000000","#000000","#000000","#000000","#000000"]},"legend":null}
  }}
]
}
]
}
